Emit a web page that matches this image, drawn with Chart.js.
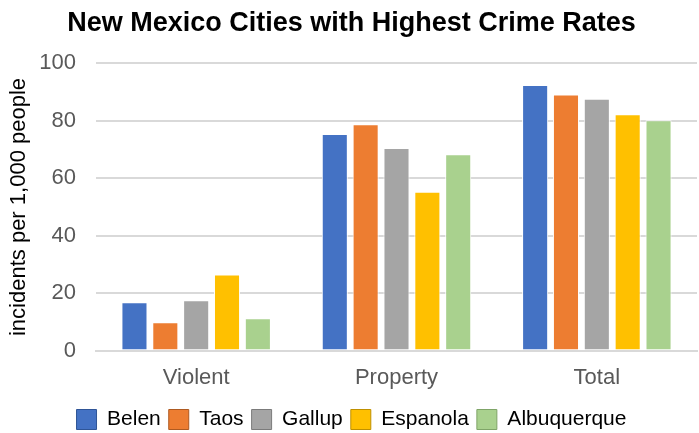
<!DOCTYPE html>
<html>
<head>
<meta charset="utf-8">
<script src="https://cdn.jsdelivr.net/npm/chart.js@4"></script>
<style>
  html, body { margin: 0; padding: 0; background: #fff; }
  #wrap { width: 699px; height: 433px; }
</style>
</head>
<body>
<div id="wrap"><canvas id="crimeChart" width="699" height="433"></canvas></div>
<script>
var categories = ["Violent", "Property", "Total"];
var cities = ["Belen", "Taos", "Gallup", "Espanola", "Albuquerque"];
var belen = [16.8, 75.4, 92.5];
var taos = [9.9, 78.8, 89.2];
var gallup = [17.5, 70.5, 87.7];
var espanola = [26.5, 55.3, 82.3];
var albuquerque = [11.3, 68.4, 80.2];
var yTicks = [0, 20, 40, 60, 80, 100];

var seriesValues = [belen, taos, gallup, espanola, albuquerque];
var barColors = ["#4472c4", "#ed7d31", "#a5a5a5", "#ffc000", "#a9d18e"];
var legendBorders = ["#2f5597", "#ae5a21", "#7b7b7b", "#bf9000", "#7fa568"];

var datasets = [];
for (var i = 0; i < cities.length; i++) {
    datasets.push({
        label: cities[i],
        data: seriesValues[i],
        backgroundColor: barColors[i],
        borderColor: "#ffffff",
        borderWidth: 1,
        categoryPercentage: 0.77,
        barPercentage: 0.845
    });
}

new Chart("crimeChart", {
    type: "bar",
    data: {
        labels: categories,
        datasets: datasets
    },
    options: {
        responsive: false,
        animation: false,
        layout: { padding: { left: 6, right: 2, top: 0, bottom: -7 } },
        plugins: {
            title: {
                display: true,
                text: "New Mexico Cities with Highest Crime Rates",
                color: "#000000",
                font: { family: "Arial, Liberation Sans", size: 27, weight: "bold" },
                padding: { top: 7, bottom: 24 }
            },
            legend: {
                position: "bottom",
                labels: {
                    color: "#000000",
                    font: { family: "Arial, Liberation Sans", size: 21 },
                    boxWidth: 20,
                    boxHeight: 20,
                    padding: 8,
                    generateLabels: function (chart) {
                        return cities.map(function (name, idx) {
                            return {
                                text: name,
                                fillStyle: barColors[idx],
                                strokeStyle: legendBorders[idx],
                                lineWidth: 1,
                                datasetIndex: idx
                            };
                        });
                    }
                }
            },
            tooltip: { enabled: false }
        },
        scales: {
            x: {
                afterFit: function (axis) {
                    axis.height += 4;
                },
                grid: { display: false },
                border: { color: "#d9d9d9", width: 2 },
                ticks: {
                    color: "#595959",
                    font: { family: "Arial, Liberation Sans", size: 22 },
                    padding: 6
                }
            },
            y: {
                min: 0,
                max: 100,
                afterBuildTicks: function (axis) {
                    axis.ticks = yTicks.map(function (v) { return { value: v }; });
                },
                afterFit: function (axis) {
                    axis.width = 90;
                },
                grid: { color: "#d9d9d9", lineWidth: 2, drawTicks: false },
                border: { display: false },
                ticks: {
                    color: "#595959",
                    font: { family: "Arial, Liberation Sans", size: 22 },
                    padding: 20
                },
                title: {
                    display: true,
                    text: "incidents per 1,000 people",
                    color: "#000000",
                    font: { family: "Arial, Liberation Sans", size: 22 },
                    padding: { top: 0, bottom: 2 }
                }
            }
        }
    }
});
</script>
</body>
</html>
